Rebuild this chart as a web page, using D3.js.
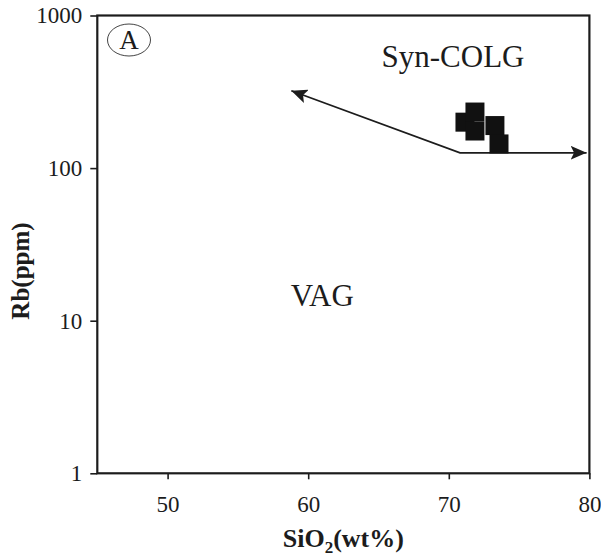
<!DOCTYPE html>
<html>
<head>
<meta charset="utf-8">
<script src="https://cdn.jsdelivr.net/npm/d3@7/dist/d3.min.js"></script>
<style>
  html, body { margin: 0; padding: 0; background: #fff; }
  svg { display: block; font-family: "Liberation Serif", "Times New Roman", serif; }
</style>
</head>
<body>
<svg id="chart" width="601" height="556"></svg>
<script>
// Rb vs SiO2 tectonic discrimination plot (panel A)
const xTicks = [50, 60, 70, 80];
const yTicks = [1, 10, 100, 1000];

// Samples: SiO2 (wt%) and Rb (ppm)
const sio2 = [71.15, 71.86, 71.86, 73.28, 73.57];
const rb   = [200, 233, 175, 190, 144];

// Field boundary: kinked line with arrows at both ends
const boundarySiO2 = [58.8, 70.8, 79.8];
const boundaryRb   = [321, 126, 126];

// Field names
const fieldNames = ["Syn-COLG", "VAG"];
const fieldSiO2  = [70.3, 61.0];
const fieldRb    = [462, 12.5];

const W = 601, H = 556;
const margin = { top: 15.5, right: 11.6, bottom: 82.7, left: 97.3 };
const iw = W - margin.left - margin.right;
const ih = H - margin.top - margin.bottom;
const ink = "#1c1c1c";
const serif = '"Liberation Serif", "Times New Roman", serif';

const svg = d3.select("#chart");
const g = svg.append("g").attr("transform", `translate(${margin.left},${margin.top})`);

const x = d3.scaleLinear().domain([45, 80]).range([0, iw]);
const y = d3.scaleLog().domain([1, 1000]).range([ih, 0]);

// Axes
const xAxis = g.append("g")
  .attr("transform", `translate(0,${ih})`)
  .call(d3.axisBottom(x).tickValues(xTicks).tickFormat(d3.format("d"))
    .tickSize(6).tickSizeOuter(0).tickPadding(16));
const yAxis = g.append("g")
  .call(d3.axisLeft(y).tickValues(yTicks).tickFormat(d3.format("d"))
    .tickSize(7).tickSizeOuter(0).tickPadding(8));

[xAxis, yAxis].forEach(a => {
  a.attr("font-family", serif).attr("font-size", 23);
  a.select(".domain").remove();
  a.selectAll(".tick line").attr("stroke", ink).attr("stroke-width", 1.6);
  a.selectAll(".tick text").attr("fill", ink);
});

// Plot frame
g.append("rect")
  .attr("x", 0).attr("y", 0).attr("width", iw).attr("height", ih)
  .attr("fill", "none").attr("stroke", ink).attr("stroke-width", 2.2);

// Arrowhead marker
svg.append("defs").append("marker")
  .attr("id", "arrow")
  .attr("viewBox", "0 0 16 14")
  .attr("refX", 16).attr("refY", 7)
  .attr("markerUnits", "userSpaceOnUse")
  .attr("markerWidth", 16).attr("markerHeight", 14)
  .attr("orient", "auto-start-reverse")
  .append("path")
  .attr("d", "M0,0 L16,7 L0,14 L3.5,7 Z")
  .attr("fill", ink);

const boundary = boundarySiO2.map((s, i) => [x(s), y(boundaryRb[i])]);
g.append("path")
  .attr("d", d3.line()(boundary))
  .attr("fill", "none")
  .attr("stroke", ink)
  .attr("stroke-width", 1.7)
  .attr("marker-start", "url(#arrow)")
  .attr("marker-end", "url(#arrow)");

// Samples as filled squares
const side = 19;
g.selectAll("rect.sample")
  .data(sio2.map((s, i) => ({ s, r: rb[i] })))
  .join("rect")
  .attr("class", "sample")
  .attr("x", d => x(d.s) - side / 2)
  .attr("y", d => y(d.r) - side / 2)
  .attr("width", side).attr("height", side)
  .attr("fill", "#111");

// Field names
g.selectAll("text.field")
  .data(fieldNames.map((n, i) => ({ n, s: fieldSiO2[i], r: fieldRb[i] })))
  .join("text")
  .attr("class", "field")
  .attr("x", d => x(d.s))
  .attr("y", d => y(d.r))
  .attr("text-anchor", "middle")
  .attr("fill", ink)
  .attr("font-size", 31)
  .text(d => d.n);

// Panel badge
const badge = g.append("g").attr("transform", "translate(31.7,24.5)");
badge.append("ellipse")
  .attr("rx", 21.5).attr("ry", 16)
  .attr("fill", "none").attr("stroke", "#444").attr("stroke-width", 1);
badge.append("text")
  .attr("text-anchor", "middle").attr("dy", "0.35em")
  .attr("fill", ink).attr("font-size", 27)
  .text("A");

// Axis titles
const xTitle = svg.append("text")
  .attr("x", margin.left + iw / 2).attr("y", 547)
  .attr("text-anchor", "middle")
  .attr("fill", ink)
  .attr("font-size", 26).attr("font-weight", "bold");
xTitle.append("tspan").text("SiO");
xTitle.append("tspan").attr("dy", 6).attr("font-size", 17).text("2");
xTitle.append("tspan").attr("dy", -6).text("(wt%)");

svg.append("text")
  .attr("transform", "translate(29,271) rotate(-90)")
  .attr("text-anchor", "middle")
  .attr("fill", ink)
  .attr("font-size", 25).attr("font-weight", "bold")
  .text("Rb(ppm)");
</script>
</body>
</html>
